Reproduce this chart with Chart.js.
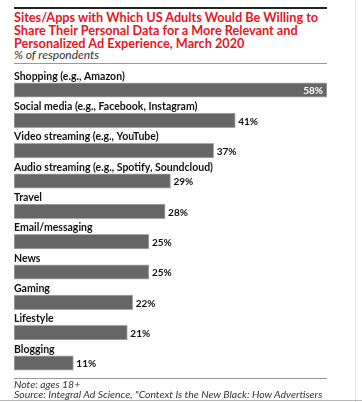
<!DOCTYPE html>
<html>
<head>
<meta charset="utf-8">
<script src="https://cdn.jsdelivr.net/npm/chart.js@4/dist/chart.umd.min.js"></script>
<style>
  html, body { margin: 0; padding: 0; background: #fff; }
  body { width: 362px; height: 402px; position: relative; overflow: hidden; font-family: Lato, "Open Sans", sans-serif; }
  #topline { position: absolute; left: 14px; top: 7px; width: 313px; height: 2px; background: #222; }
  #title { position: absolute; left: 14px; top: 11px; width: 330px; color: #e8161e; font-weight: 700; font-size: 12.7px; line-height: 13px; }
  #subtitle { position: absolute; left: 14px; top: 48px; color: #333; font-style: italic; font-size: 12px; line-height: 13px; }
  #midline { position: absolute; left: 14px; top: 63px; width: 313px; height: 1px; background: #999; }
  #wrap { position: absolute; left: 0; top: 64px; width: 362px; height: 316px; }
  #noteline { position: absolute; left: 14px; top: 378px; width: 313px; height: 1px; background: #999; }
  #note { position: absolute; left: 14px; top: 380px; color: #333; font-style: italic; font-size: 10.45px; line-height: 9.5px; }
  #vline { position: absolute; left: 355px; top: 0; width: 1px; height: 402px; background: #e4e4e4; }
  #bline { position: absolute; left: 0; top: 400px; width: 362px; height: 1px; background: #bbb; }
</style>
</head>
<body>
<div id="topline"></div>
<div id="title">Sites/Apps with Which US Adults Would Be Willing to Share Their Personal Data for a More Relevant and Personalized Ad Experience, March 2020</div>
<div id="subtitle">% of respondents</div>
<div id="midline"></div>
<div id="wrap"><canvas id="c"></canvas></div>
<div id="noteline"></div>
<div id="note">Note: ages 18+<br>Source: Integral Ad Science, "Context Is the New Black: How Advertisers</div>
<div id="vline"></div>
<div id="bline"></div>
<script>
const categories = [
  "Shopping (e.g., Amazon)",
  "Social media (e.g., Facebook, Instagram)",
  "Video streaming (e.g., YouTube)",
  "Audio streaming (e.g., Spotify, Soundcloud)",
  "Travel",
  "Email/messaging",
  "News",
  "Gaming",
  "Lifestyle",
  "Blogging"
];
const values = [58, 41, 37, 29, 28, 25, 25, 22, 21, 11];
const valueLabels = values.map(v => v + "%");
const axisMax = 58;

const labelPlugin = {
  id: 'barLabels',
  afterDatasetsDraw(chart) {
    const ctx = chart.ctx;
    const meta = chart.getDatasetMeta(0);
    const left = chart.chartArea.left;
    ctx.save();
    meta.data.forEach((bar, i) => {
      const top = bar.y - bar.height / 2;
      ctx.font = 'bold 10.5px Lato, "Open Sans", sans-serif';
      ctx.fillStyle = '#111';
      ctx.textAlign = 'left';
      ctx.textBaseline = 'alphabetic';
      ctx.fillText(categories[i], left, top - 3);
      ctx.font = 'bold 10px Lato, "Open Sans", sans-serif';
      ctx.textBaseline = 'middle';
      if (values[i] === Math.max(...values)) {
        ctx.fillStyle = '#fff';
        ctx.textAlign = 'right';
        ctx.fillText(valueLabels[i], bar.x - 4, bar.y + 0.5);
      } else {
        ctx.fillStyle = '#111';
        ctx.textAlign = 'left';
        ctx.fillText(valueLabels[i], bar.x + 3, bar.y + 1);
      }
    });
    ctx.restore();
  }
};

new Chart(document.getElementById('c'), {
  type: 'bar',
  data: {
    labels: categories,
    datasets: [{
      data: values,
      backgroundColor: '#666666',
      borderColor: '#a8a8a8',
      borderWidth: 1,
      borderSkipped: false,
      barThickness: 14.5
    }]
  },
  options: {
    indexAxis: 'y',
    responsive: true,
    maintainAspectRatio: false,
    animation: false,
    layout: { padding: { left: 14, right: 35, top: 10.8, bottom: 1.8 } },
    plugins: { legend: { display: false }, tooltip: { enabled: false } },
    scales: {
      x: { min: 0, max: axisMax, display: false },
      y: { display: false, offset: true }
    }
  },
  plugins: [labelPlugin]
});
</script>
</body>
</html>
